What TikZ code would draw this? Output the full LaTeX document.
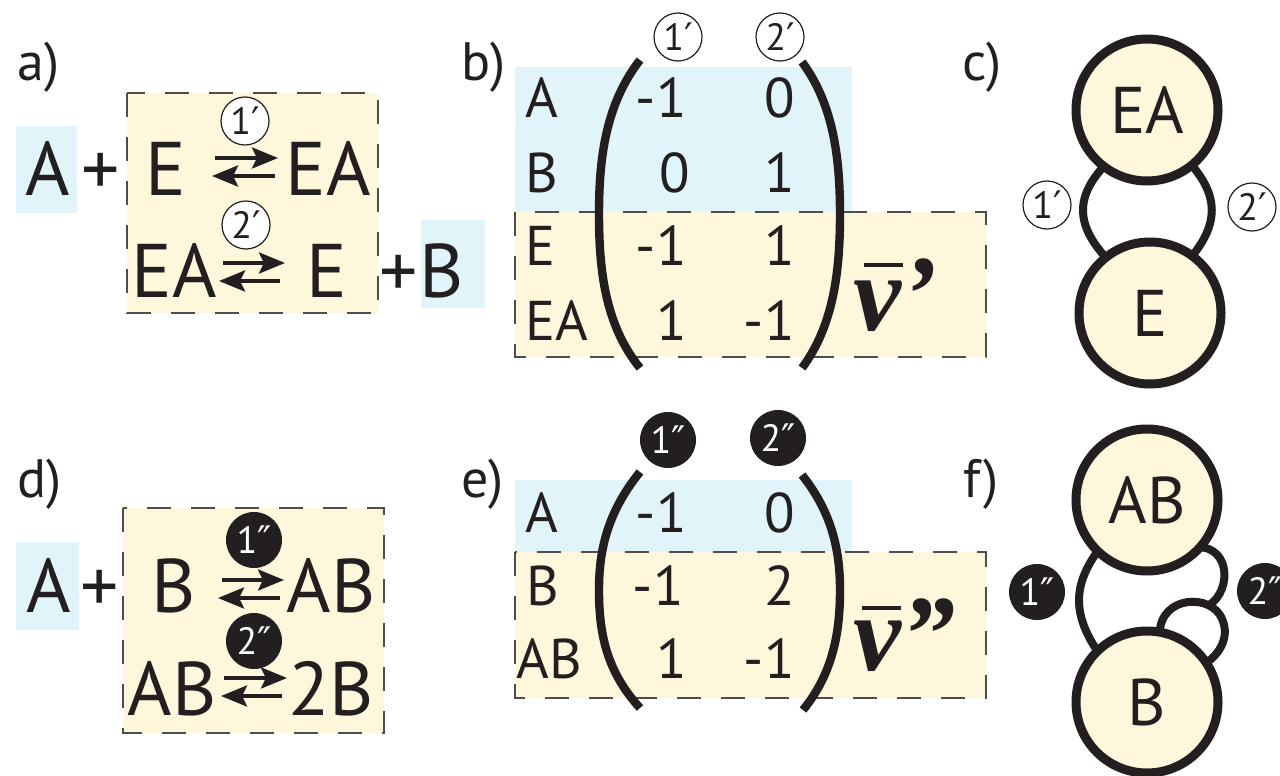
\documentclass[tikz,border=0pt]{standalone}
\usepackage{fontspec}
\setmainfont{PT Sans}
\newfontfamily\primefont{DejaVu Sans}
\newfontfamily\nufont{Liberation Serif}
\usetikzlibrary{arrows.meta}
\definecolor{ink}{RGB}{35,31,32}
\definecolor{bluebg}{RGB}{224,244,250}
\definecolor{yelbg}{RGB}{255,247,219}
\newcommand\bigf{\fontsize{38}{40}\selectfont}
\newcommand\matf{\fontsize{28}{30}\selectfont}
\newcommand\panf{\fontsize{27}{29}\selectfont}
\newcommand\labf{\fontsize{19}{20}\selectfont}
\newcommand\circf{\fontsize{33}{35}\selectfont}
\newcommand\nuf{\fontsize{54}{56}\selectfont\nufont\bfseries\itshape}
\begin{document}
\begin{tikzpicture}[x=0.5pt,y=-0.5pt,
  eq/.style={anchor=base, inner sep=0pt, font=\bigf, text=ink},
  pan/.style={anchor=base west, inner sep=0pt, font=\panf, text=ink},
  mrow/.style={anchor=base west, inner sep=0pt, font=\matf, text=ink},
  mnum/.style={anchor=base east, inner sep=0pt, font=\matf, text=ink},
  lab/.style={circle, draw=ink, line width=0.6pt, fill=white, minimum size=24pt, inner sep=0pt, font=\labf, text=ink},
  flab/.style={circle, fill=ink, minimum size=28pt, inner sep=0pt, font=\labf, text=white},
  bigc/.style={circle, draw=ink, line width=4.5pt, fill=yelbg, minimum size=71pt, inner sep=0pt, font=\circf, text=ink},
  loopl/.style={draw=ink, line width=4pt},
  eqarr/.style={-{Stealth[length=13pt,width=10.5pt,inset=2.5pt]}, line width=2pt, draw=ink},
  dbox/.style={draw=ink!80, line width=0.9pt, dash pattern=on 12pt off 10pt, fill=yelbg},
  paren/.style={draw=ink, line width=4.2pt},
  nubar/.style={draw=ink, line width=2.2pt},
  nulab/.style={anchor=base west, inner sep=0pt, font=\nuf, text=ink}]
\useasboundingbox (0,0) rectangle (1280,776);
\fill[white] (0,0) rectangle (1280,776);

% ---------- panel labels ----------
\node[pan] (la) at (17,80) {a)};
\node[pan] (lb) at (461,80) {b)};
\node[pan] (lc) at (962,80) {c)};
\node[pan] (ld) at (17,497) {d)};
\node[pan] (le) at (461,497) {e)};
\node[pan] (lf) at (963,497) {f)};

% ---------- panel a ----------
\draw[dbox] (127,93) rectangle (378,313);
\fill[bluebg] (16,126) rectangle (77,213);
\fill[bluebg] (421,220) rectangle (485,308);
\node[eq] (aA) at (48,195) {A};
\node[eq] (aP1) at (101,195) {+};
\node[eq] (aE1) at (166,195) {E};
\node[eq] (aEA1) at (328,195) {EA};
\node[eq] (aEA2) at (174,297) {EA};
\node[eq] (aE2) at (327,297) {E};
\node[eq] (aP2) at (399,297) {+};
\node[eq] (aB) at (442,297) {B};
\coordinate (a1s) at (215,158); \coordinate (a1e) at (278,158);
\coordinate (a1r) at (275,176); \coordinate (a1l) at (212,176);
\coordinate (a2s) at (223,263); \coordinate (a2e) at (285,263);
\coordinate (a2r) at (280,281); \coordinate (a2l) at (219,281);
\draw[eqarr] (a1s) -- (a1e);
\draw[eqarr] (a1r) -- (a1l);
\draw[eqarr] (a2s) -- (a2e);
\draw[eqarr] (a2r) -- (a2l);
\node[lab] (ar1) at (245,121) {1\primefont ′};
\node[lab] (ar2) at (246,225) {2\primefont ′};

% ---------- panel b ----------
\fill[bluebg] (515,67) rectangle (852,212);
\draw[dbox] (515,212) rectangle (986,357);
\node[mrow] (bA) at (525,117) {A};
\node[mrow] (bB) at (525,192) {B};
\node[mrow] (bE) at (525,265) {E};
\node[mrow] (bEA) at (525,340) {EA};
\node[mnum] (b11) at (687,117) {-1};
\node[mnum] (b12) at (795,117) {0};
\node[mnum] (b21) at (690,192) {0};
\node[mnum] (b22) at (795,192) {1};
\node[mnum] (b31) at (687,265) {-1};
\node[mnum] (b32) at (795,265) {1};
\node[mnum] (b41) at (687,340) {1};
\node[mnum] (b42) at (795,340) {-1};
\draw[paren] (640,60) .. controls (605,105) and (599,160) .. (599,214) .. controls (599,270) and (605,325) .. (640,368);
\draw[paren] (802,62) .. controls (834,105) and (840,160) .. (840,214) .. controls (840,270) and (834,325) .. (802,368);
\node[lab] (bc1) at (678,37) {1\primefont ′};
\node[lab] (bc2) at (780,37) {2\primefont ′};
\node[nulab] (bnu) at (853,330) {ν’};
\coordinate (bbar1) at (864,265); \coordinate (bbar2) at (903,265);
\draw[nubar] (bbar1) -- (bbar2);

% ---------- panel c ----------
\draw[loopl] (1110,160) .. controls (1074,195) and (1074,225) .. (1110,262);
\draw[loopl] (1187,160) .. controls (1220,195) and (1220,225) .. (1187,262);
\node[bigc] (cEA) at (1147,110) {EA};
\node[bigc] (cE) at (1150,313) {E};
\node[lab] (cr1) at (1047,205) {1\primefont ′};
\node[lab] (cr2) at (1252,207) {2\primefont ′};

% ---------- panel d ----------
\draw[dbox] (123,508) rectangle (384,733);
\fill[bluebg] (16,542) rectangle (79,630);
\node[eq] (dA) at (49,612) {A};
\node[eq] (dP) at (100,612) {+};
\node[eq] (dB1) at (174,612) {B};
\node[eq] (dAB1) at (331,612) {AB};
\node[eq] (dAB2) at (172,715) {AB};
\node[eq] (d2B) at (331,715) {2B};
\coordinate (d1s) at (222,580); \coordinate (d1e) at (284,580);
\coordinate (d1r) at (280,598); \coordinate (d1l) at (218,598);
\coordinate (d2s) at (224,678); \coordinate (d2e) at (287,678);
\coordinate (d2r) at (282,696); \coordinate (d2l) at (221,696);
\draw[eqarr] (d1s) -- (d1e);
\draw[eqarr] (d1r) -- (d1l);
\draw[eqarr] (d2s) -- (d2e);
\draw[eqarr] (d2r) -- (d2l);
\node[flab] (dr1) at (254,540) {1\primefont ″};
\node[flab] (dr2) at (254,641) {2\primefont ″};

% ---------- panel e ----------
\fill[bluebg] (515,480) rectangle (852,552);
\draw[dbox] (515,552) rectangle (986,698);
\node[mrow] (eA) at (525,532) {A};
\node[mrow] (eB) at (526,605) {B};
\node[mrow] (eAB) at (516,678) {AB};
\node[mnum] (e11) at (687,532) {-1};
\node[mnum] (e12) at (795,532) {0};
\node[mnum] (e21) at (684,605) {-1};
\node[mnum] (e22) at (795,605) {2};
\node[mnum] (e31) at (687,678) {1};
\node[mnum] (e32) at (795,678) {-1};
\draw[paren] (640,472) .. controls (605,515) and (599,555) .. (599,590) .. controls (599,630) and (605,670) .. (640,708);
\draw[paren] (802,475) .. controls (834,515) and (840,555) .. (840,590) .. controls (840,630) and (834,672) .. (803,710);
\node[flab] (ec1) at (668,440) {1\primefont ″};
\node[flab] (ec2) at (778,438) {2\primefont ″};
\node[nulab] (enu) at (853,670) {ν”};
\coordinate (ebar1) at (862,608); \coordinate (ebar2) at (901,608);
\draw[nubar] (ebar1) -- (ebar2);

% ---------- panel f ----------
\draw[loopl] (1100,548) .. controls (1072,585) and (1072,615) .. (1100,655);
\draw[loopl] (1190,548) .. controls (1230,540) and (1234,590) .. (1208,606);
\draw[loopl] (1160,640) .. controls (1155,598) and (1205,592) .. (1220,615) .. controls (1232,635) and (1220,655) .. (1203,665);
\node[bigc] (fAB) at (1147,500) {AB};
\node[bigc] (fB) at (1147,702) {B};
\node[flab] (fr1) at (1037,592) {1\primefont ″};
\node[flab] (fr2) at (1265,591) {2\primefont ″};
\end{tikzpicture}
\end{document}
